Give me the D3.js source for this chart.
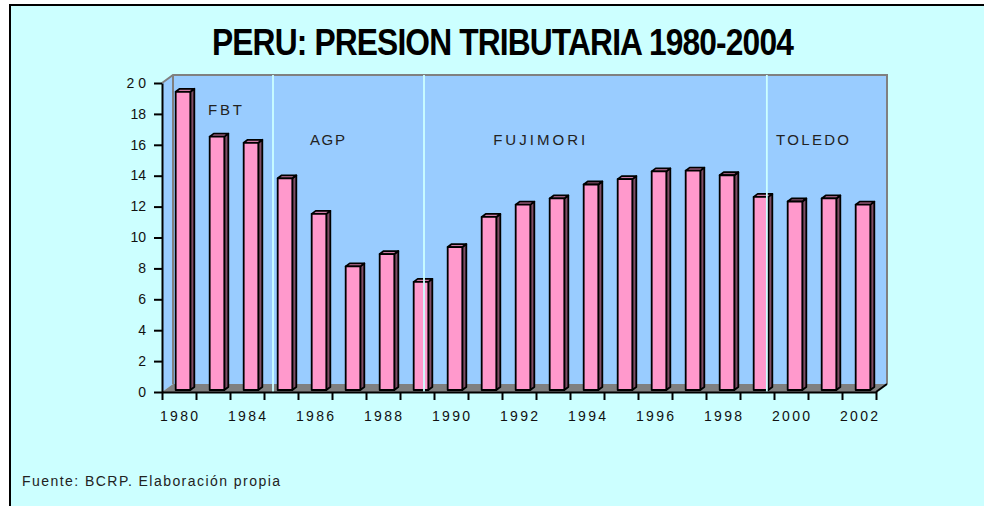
<!DOCTYPE html>
<html lang="es">
<head>
  <meta charset="UTF-8">
  <title>PERU: PRESION TRIBUTARIA 1980-2004</title>
  <script src="https://d3js.org/d3.v7.min.js"></script>
  <style>
    body {
      margin: 0;
      background-color: #ffffff;
    }
    .plain {
      font-family: Arial, "Liberation Sans", sans-serif;
    }
  </style>
</head>
<body>
  <div id="chart"></div>

  <script>
    // datos
    const years = ["1980", "1982", "1984", "1985", "1986", "1987", "1988", "1989", "1990", "1991", "1992",
                   "1993", "1994", "1995", "1996", "1997", "1998", "1999", "2000", "2001", "2002"];
    const presion = [19.3, 16.4, 16.0, 13.7, 11.4, 8.0, 8.8, 7.0, 9.25, 11.2, 12.0,
                     12.4, 13.3, 13.65, 14.15, 14.2, 13.9, 12.5, 12.2, 12.4, 12.0];
    const yTicks = [0, 2, 4, 6, 8, 10, 12, 14, 16, 18, 20];
    const yTickLabels = ["0", "2", "4", "6", "8", "10", "12", "14", "16", "18", "2 0"];

    // periodos de gobierno (posicion en unidades de categoria y nivel en el eje y)
    const eraNames = ["FBT", "AGP", "FUJIMORI", "TOLEDO"];
    const eraStart = [1.35, 4.35, 9.74, 18.06];
    const eraLevel = [17.9, 16.0, 16.0, 16.0];
    const eraWidth = [34, 35, 92, 73];
    const eraBreaks = [3.265, 7.706, 17.79];

    const width = 984;
    const height = 506;
    const depth = {x: 11, y: -8};     // profundidad de la caja 3D
    const barShift = {x: 4, y: -2};   // barras a media profundidad
    const barDepth = {x: 4, y: -3};

    const svg = d3.select("#chart")
      .append("svg")
      .attr("width", width)
      .attr("height", height);

    // marco
    svg.append("rect")
      .attr("x", 9).attr("y", 4)
      .attr("width", width - 9).attr("height", height - 4)
      .attr("fill", "#CCFFFF");
    svg.append("line")
      .attr("x1", 9).attr("x2", width).attr("y1", 5).attr("y2", 5)
      .attr("stroke", "#000").attr("stroke-width", 2);
    svg.append("line")
      .attr("x1", 10).attr("x2", 10).attr("y1", 4).attr("y2", height)
      .attr("stroke", "#000").attr("stroke-width", 2);

    // titulo
    svg.append("text")
      .attr("class", "plain")
      .attr("x", 502.5).attr("y", 55)
      .attr("text-anchor", "middle")
      .attr("font-size", 37)
      .attr("font-weight", "bold")
      .attr("letter-spacing", -1)
      .attr("textLength", 581)
      .attr("lengthAdjust", "spacingAndGlyphs")
      .text("PERU: PRESION TRIBUTARIA 1980-2004");

    const x = d3.scaleBand()
      .domain(years)
      .range([162, 876])
      .paddingInner(0.57)
      .paddingOuter(0.285);

    const xu = d3.scaleLinear()
      .domain([0, years.length])
      .range([162, 876]);

    const y = d3.scaleLinear()
      .domain([0, 20])
      .range([392, 83]);

    const x0 = xu(0), x1 = xu(years.length), y0 = y(0), y1 = y(20);

    // paredes
    svg.append("polygon")
      .attr("points", [[x0, y0], [x0, y1], [x0 + depth.x, y1 + depth.y], [x0 + depth.x, y0 + depth.y]].join(" "))
      .attr("fill", "#99CCFF");
    svg.append("rect")
      .attr("x", x0 + depth.x).attr("y", y1 + depth.y)
      .attr("width", x1 - x0).attr("height", y0 - y1)
      .attr("fill", "#99CCFF");
    svg.append("path")
      .attr("d", `M${x0},${y1} L${x0 + depth.x},${y1 + depth.y} L${x1 + depth.x},${y1 + depth.y} L${x1 + depth.x},${y0 + depth.y}`)
      .attr("fill", "none")
      .attr("stroke", "#808080")
      .attr("stroke-width", 2);
    svg.append("line")
      .attr("x1", x0 + depth.x).attr("x2", x0 + depth.x)
      .attr("y1", y1 + depth.y).attr("y2", y0 + depth.y)
      .attr("stroke", "#808080").attr("stroke-width", 2);
    svg.append("polygon")
      .attr("points", [[x0, y0], [x0 + depth.x, y0 + depth.y], [x1 + depth.x, y0 + depth.y], [x1, y0]].join(" "))
      .attr("fill", "#808080");
    svg.append("line")
      .attr("x1", x1).attr("y1", y0)
      .attr("x2", x1 + depth.x).attr("y2", y0 + depth.y)
      .attr("stroke", "#000").attr("stroke-width", 2);

    // barras
    const bw = x.bandwidth();
    const bars = svg.append("g")
      .attr("stroke", "#000")
      .attr("stroke-width", 1.8)
      .attr("stroke-linejoin", "round");

    years.forEach((yr, i) => {
      const bx = x(yr) + barShift.x;
      const top = y(presion[i]) + barShift.y;
      const base = y(0) + barShift.y;
      bars.append("polygon")
        .attr("points", [[bx + bw, base], [bx + bw, top], [bx + bw + barDepth.x, top + barDepth.y],
                         [bx + bw + barDepth.x, base + barDepth.y]].join(" "))
        .attr("fill", "#7F4D66");
      bars.append("polygon")
        .attr("points", [[bx, top], [bx + barDepth.x, top + barDepth.y],
                         [bx + bw + barDepth.x, top + barDepth.y], [bx + bw, top]].join(" "))
        .attr("fill", "#CC7AA3");
      bars.append("rect")
        .attr("x", bx).attr("y", top)
        .attr("width", bw).attr("height", base - top)
        .attr("fill", "#FF99CC");
    });

    // separadores de periodos
    svg.selectAll(".sep")
      .data(eraBreaks)
      .join("line")
      .attr("class", "sep")
      .attr("x1", d => xu(d)).attr("x2", d => xu(d))
      .attr("y1", y1 + depth.y).attr("y2", y0)
      .attr("stroke", "#CCFFFF")
      .attr("stroke-width", 1.8);

    svg.selectAll(".era")
      .data(eraNames)
      .join("text")
      .attr("class", "era plain")
      .attr("x", (d, i) => xu(eraStart[i]))
      .attr("y", (d, i) => y(eraLevel[i]))
      .attr("font-size", 15)
      .attr("fill", "#222")
      .attr("textLength", (d, i) => eraWidth[i])
      .attr("lengthAdjust", "spacing")
      .text(d => d);

    // eje y
    const yAxis = svg.append("g")
      .attr("transform", `translate(${x0},0)`)
      .call(d3.axisLeft(y)
        .tickValues(yTicks)
        .tickSize(8)
        .tickSizeOuter(0)
        .tickPadding(8)
        .tickFormat((d, i) => yTickLabels[i]));
    yAxis.select(".domain").attr("stroke", "#000").attr("stroke-width", 2);
    yAxis.selectAll(".tick line").attr("stroke", "#000").attr("stroke-width", 2);
    yAxis.selectAll(".tick text")
      .attr("class", "plain")
      .attr("font-size", 14)
      .attr("fill", "#111")
      .attr("dy", "0.3em");

    // eje x
    const xAxis = svg.append("g")
      .attr("transform", `translate(0,${y0})`)
      .call(d3.axisBottom(xu)
        .tickValues(d3.range(0, years.length + 1))
        .tickSize(8)
        .tickSizeOuter(0)
        .tickFormat(""));
    xAxis.select(".domain").attr("stroke", "#000").attr("stroke-width", 2);
    xAxis.selectAll(".tick line").attr("stroke", "#000").attr("stroke-width", 2);

    svg.selectAll(".xlab")
      .data(years.filter((d, i) => i % 2 === 0))
      .join("text")
      .attr("class", "xlab plain")
      .attr("x", d => x(d) + bw / 2)
      .attr("y", 421)
      .attr("text-anchor", "middle")
      .attr("font-size", 14)
      .attr("fill", "#111")
      .attr("textLength", 38)
      .attr("lengthAdjust", "spacing")
      .text(d => d);

    // fuente
    svg.append("text")
      .attr("class", "plain")
      .attr("x", 22).attr("y", 485.5)
      .attr("font-size", 14)
      .attr("fill", "#222")
      .attr("textLength", 258)
      .attr("lengthAdjust", "spacing")
      .text("Fuente: BCRP. Elaboración propia");
  </script>
</body>
</html>
